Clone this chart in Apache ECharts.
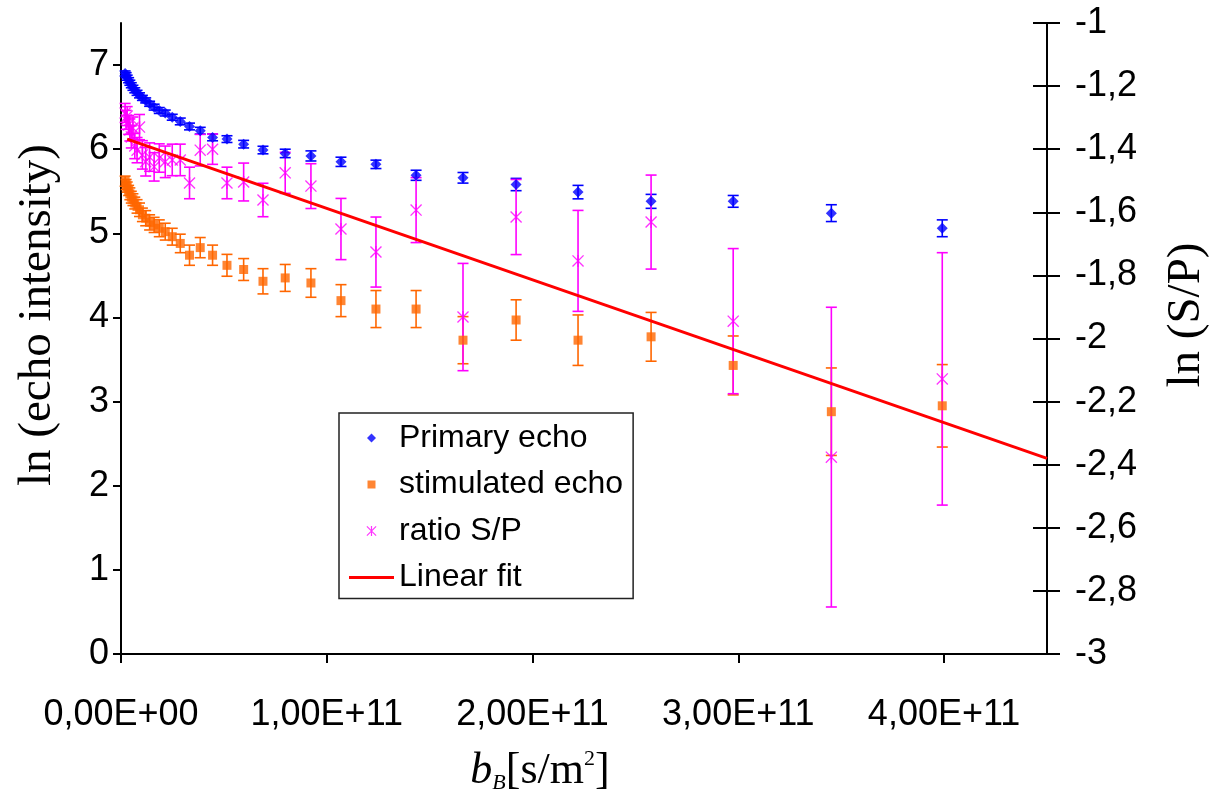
<!DOCTYPE html>
<html><head><meta charset="utf-8">
<script src="https://cdn.jsdelivr.net/npm/echarts@6/dist/echarts.min.js"></script>
<style>html,body{margin:0;padding:0;background:#fff}#c{width:1218px;height:800px}</style>
</head><body><div id="c"></div>
<script>
// diffusion weighting b_B [s/m^2]
const bValues = [0.02e11, 0.025e11, 0.03e11, 0.037e11, 0.043e11, 0.05e11, 0.058e11, 0.067e11, 0.078e11, 0.09e11,
  0.104e11, 0.12e11, 0.139e11, 0.161e11, 0.186e11, 0.215e11, 0.249e11, 0.288e11, 0.333e11, 0.385e11,
  0.445e11, 0.515e11, 0.596e11, 0.69e11, 0.798e11, 0.923e11, 1.069e11, 1.239e11, 1.434e11, 1.662e11,
  1.92e11, 2.221e11, 2.576e11, 2.975e11, 3.452e11, 3.991e11];
const primary = [6.90, 6.88, 6.85, 6.82, 6.79, 6.76, 6.73, 6.70, 6.67, 6.64,
  6.61, 6.58, 6.54, 6.50, 6.46, 6.43, 6.38, 6.33, 6.27, 6.22,
  6.14, 6.12, 6.06, 5.99, 5.95, 5.92, 5.85, 5.82, 5.69, 5.66,
  5.58, 5.49, 5.38, 5.38, 5.24, 5.06];
const primaryErr = [0.03, 0.03, 0.03, 0.03, 0.03, 0.03, 0.03, 0.03, 0.03, 0.03,
  0.03, 0.03, 0.03, 0.035, 0.035, 0.035, 0.035, 0.04, 0.04, 0.04,
  0.04, 0.04, 0.045, 0.045, 0.05, 0.06, 0.055, 0.05, 0.06, 0.063,
  0.073, 0.08, 0.083, 0.07, 0.1, 0.1];
const stimulated = [5.62, 5.58, 5.55, 5.51, 5.47, 5.43, 5.40, 5.36, 5.32, 5.28,
  5.22, 5.18, 5.13, 5.10, 5.06, 5.02, 4.96, 4.88, 4.74, 4.83,
  4.74, 4.62, 4.57, 4.43, 4.47, 4.41, 4.20, 4.10, 4.10, 3.73,
  3.97, 3.73, 3.77, 3.43, 2.88, 2.95];
const stimulatedErr = [0.06, 0.06, 0.06, 0.06, 0.07, 0.07, 0.07, 0.07, 0.08, 0.08,
  0.08, 0.09, 0.09, 0.09, 0.1, 0.1, 0.1, 0.11, 0.12, 0.12,
  0.12, 0.13, 0.13, 0.15, 0.16, 0.17, 0.19, 0.22, 0.22, 0.28,
  0.24, 0.30, 0.29, 0.35, 0.52, 0.49];
const ratio = [-1.285, -1.307, -1.295, -1.323, -1.339, -1.361, -1.333, -1.39, -1.403, -1.33,
  -1.418, -1.44, -1.425, -1.456, -1.428, -1.44, -1.434, -1.434, -1.507, -1.403,
  -1.40, -1.507, -1.504, -1.561, -1.475, -1.517, -1.653, -1.726, -1.593, -1.932,
  -1.615, -1.754, -1.631, -1.945, -2.376, -2.128];
const ratioErr = [0.03, 0.03, 0.03, 0.03, 0.035, 0.035, 0.035, 0.04, 0.04, 0.04,
  0.045, 0.045, 0.045, 0.045, 0.045, 0.05, 0.05, 0.05, 0.05, 0.05,
  0.048, 0.05, 0.06, 0.053, 0.065, 0.071, 0.097, 0.111, 0.103, 0.17,
  0.119, 0.16, 0.149, 0.23, 0.475, 0.40];
const fitB = [0.03e11, 4.5e11];
const fitLn = [-1.368, -2.38];
const xTickLabels = ['0,00E+00', '1,00E+11', '2,00E+11', '3,00E+11', '4,00E+11'];

const AST = 'path://M4.4,0H5.6V10H4.4Z M0,0.8L0.8,0L10,9.2L9.2,10Z M9.2,0L10,0.8L0.8,10L0,9.2Z';
// legend icons drawn inside a 45x11 frame (the leading moves fix the frame)
const LEG_DIAMOND = 'path://M0,0 M45,11 M22.5,1 L27,5.5 L22.5,10 L18,5.5Z';
const LEG_SQUARE = 'path://M0,0 M45,11 M18.5,1.5 H26.5 V9.5 H18.5Z';
const LEG_AST = 'path://M0,0 M45,11 M21.9,0.5H23.1V10.5H21.9Z M17.5,1.3L18.3,0.5L27.5,9.7L26.7,10.5Z M26.7,0.5L27.5,1.3L18.3,10.5L17.5,9.7Z';
const LEG_LINE = 'path://M0,0 M45,11 M0,4 H45 V7 H0Z';

function errorSeries(id, vals, errs, color, yAxisIndex) {
  return {
    type: 'custom', id: id, xAxisIndex: 0, yAxisIndex: yAxisIndex, silent: true,
    data: bValues.map((b, i) => [b, vals[i], errs[i]]),
    renderItem: function (params, api) {
      const x = api.value(0), y = api.value(1), e = api.value(2);
      const p1 = api.coord([x, y + e]), p2 = api.coord([x, y - e]);
      const w = 5.5;
      const st = { stroke: color, lineWidth: 1.6 };
      return { type: 'group', children: [
        { type: 'line', shape: { x1: p1[0], y1: p1[1], x2: p2[0], y2: p2[1] }, style: st },
        { type: 'line', shape: { x1: p1[0] - w, y1: p1[1], x2: p1[0] + w, y2: p1[1] }, style: st },
        { type: 'line', shape: { x1: p2[0] - w, y1: p2[1], x2: p2[0] + w, y2: p2[1] }, style: st }
      ]};
    }
  };
}

const tickFont = { fontFamily: 'Liberation Sans', fontSize: 36, color: '#000' };
const axisLine = { show: true, lineStyle: { color: '#000', width: 2 } };

const chart = echarts.init(document.getElementById('c'), null, { renderer: 'canvas' });
chart.setOption({
  animation: false,
  backgroundColor: '#fff',
  grid: { left: 121, top: 23, width: 926, height: 631 },
  legend: {
    orient: 'vertical', left: 339, top: 413, padding: [9, 10, 5, 10], itemGap: 14.5,
    itemWidth: 45, itemHeight: 11, borderColor: '#222', borderWidth: 1.5, backgroundColor: '#fff',
    selectedMode: false,
    textStyle: { fontFamily: 'Liberation Sans', fontSize: 32, lineHeight: 32, color: '#000' },
    data: [
      { name: 'Primary echo', icon: LEG_DIAMOND },
      { name: 'stimulated echo', icon: LEG_SQUARE },
      { name: 'ratio S/P', icon: LEG_AST },
      { name: 'Linear fit', icon: LEG_LINE }
    ]
  },
  xAxis: {
    type: 'value', min: 0, max: 4.5e11, interval: 1e11,
    axisLine: axisLine, splitLine: { show: false },
    axisTick: { show: true, inside: false, length: 9, lineStyle: { color: '#000', width: 2 } },
    axisLabel: Object.assign({ margin: 43, showMaxLabel: false,
      formatter: v => { const k = Math.round(v / 1e11); return Math.abs(v - k * 1e11) < 1 ? (xTickLabels[k] || '') : ''; } }, tickFont),
    name: '{b|b}{sub|B}{n|[s/m}{sup|2}{n|]}',
    nameLocation: 'middle', nameGap: 94,
    nameTextStyle: {
      padding: [0, 88, 0, 0],
      rich: {
        b: { fontFamily: 'Liberation Serif', fontStyle: 'italic', fontSize: 44, lineHeight: 46, color: '#000' },
        sub: { fontFamily: 'Liberation Serif', fontStyle: 'italic', fontSize: 22, lineHeight: 22, verticalAlign: 'bottom', color: '#000' },
        n: { fontFamily: 'Liberation Serif', fontSize: 44, lineHeight: 46, color: '#000' },
        sup: { fontFamily: 'Liberation Serif', fontSize: 22, lineHeight: 22, verticalAlign: 'top', color: '#000' }
      }
    }
  },
  yAxis: [
    {
      type: 'value', min: 0, max: 7.5, interval: 1, position: 'left',
      axisLine: axisLine, splitLine: { show: false },
      axisTick: { show: true, inside: false, length: 8, lineStyle: { color: '#000', width: 2 } },
      axisLabel: Object.assign({ margin: 12, showMaxLabel: false,
        formatter: v => Number.isInteger(v) ? String(v) : '' }, tickFont),
      name: 'ln (echo intensity)', nameLocation: 'middle', nameRotate: 90, nameGap: 60,
      nameTextStyle: { fontFamily: 'Liberation Serif', fontSize: 47, color: '#000', padding: [0, 0, 0, 47] }
    },
    {
      type: 'value', min: -3, max: -1, interval: 0.2, position: 'right',
      axisLine: axisLine, splitLine: { show: false },
      axisTick: { show: true, inside: false, length: 13, lineStyle: { color: '#000', width: 2 } },
      axisLabel: Object.assign({ margin: 28,
        formatter: v => String(Math.round(v * 10) / 10).replace('.', ',') }, tickFont),
      name: 'ln (S/P)', nameLocation: 'middle', nameRotate: 90, nameGap: 116,
      nameTextStyle: { fontFamily: 'Liberation Serif', fontSize: 47, color: '#000', padding: [0, 0, 0, 47] }
    },
    {
      type: 'value', min: -3, max: -1, interval: 0.2, position: 'right',
      axisLine: { show: false }, splitLine: { show: false }, axisLabel: { show: false },
      axisTick: { show: true, inside: true, length: 14, lineStyle: { color: '#000', width: 2 } }
    }
  ],
  series: [
    errorSeries('errPrimary', primary, primaryErr, '#0000ff', 0),
    { type: 'scatter', name: 'Primary echo', yAxisIndex: 0, symbol: 'diamond', symbolSize: 11,
      itemStyle: { color: '#0000ff' }, data: bValues.map((b, i) => [b, primary[i]]) },
    errorSeries('errStim', stimulated, stimulatedErr, '#ff6600', 0),
    { type: 'scatter', name: 'stimulated echo', yAxisIndex: 0, symbol: 'rect', symbolSize: 9,
      itemStyle: { color: '#ff6600' }, data: bValues.map((b, i) => [b, stimulated[i]]) },
    errorSeries('errRatio', ratio, ratioErr, '#ff00ff', 1),
    { type: 'scatter', name: 'ratio S/P', yAxisIndex: 1, symbol: AST, symbolSize: 12,
      itemStyle: { color: '#ff00ff' }, data: bValues.map((b, i) => [b, ratio[i]]) },
    { type: 'line', name: 'Linear fit', yAxisIndex: 1, symbol: 'none', z: 5,
      lineStyle: { color: '#ff0000', width: 3 }, itemStyle: { color: '#ff0000' },
      data: fitB.map((b, i) => [b, fitLn[i]]) }
  ]
});
</script></body></html>
